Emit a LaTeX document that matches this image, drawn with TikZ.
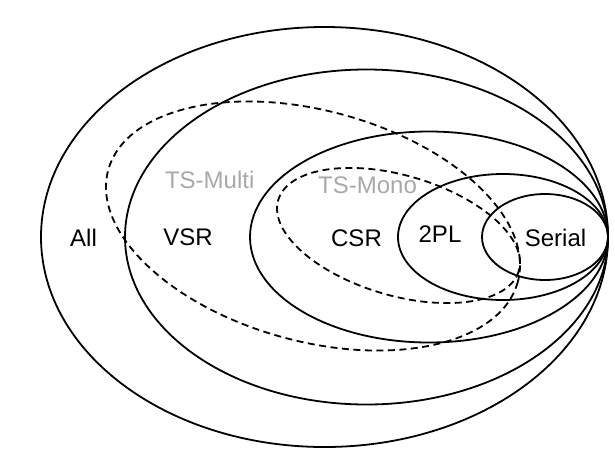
\documentclass[tikz,border=0pt]{standalone}
\usepackage{fontspec}
\setmainfont{Liberation Sans}
\definecolor{tsgray}{RGB}{168,168,168}
\begin{document}
\begin{tikzpicture}[x=1pt,y=-1pt,
  setline/.style={line width=1.8pt},
  tsline/.style={line width=1.8pt,dash pattern=on 7pt off 4.5pt},
  setlabel/.style={font=\fontsize{24}{28}\selectfont,anchor=base,inner sep=0pt,text=black},
  tslabel/.style={setlabel,text=tsgray}]
\useasboundingbox (0,0) rectangle (615,453);
% nested sets, all tangent at the right
\draw[setline] (324.5,237) ellipse [x radius=283.5, y radius=210];
\draw[setline] (366.5,237) ellipse [x radius=241.5, y radius=167.5];
\draw[setline] (429,237) ellipse [x radius=179, y radius=105.5];
\draw[setline] (503,237) ellipse [x radius=105, y radius=63];
\draw[setline] (545,237) ellipse [x radius=63, y radius=43];
% dashed tilted sets
\draw[tsline, rotate around={-15.3:(313,226)}] (313,226) ellipse [x radius=212.3, y radius=115.3];
\draw[tsline, rotate around={-16.4:(398.5,235.5)}] (398.5,235.5) ellipse [x radius=125.4, y radius=60];
% labels
\node[setlabel] (all) at (83.5,246) {All};
\node[setlabel] (vsr) at (188,245.5) {VSR};
\node[setlabel] (csr) at (356.5,246) {CSR};
\node[setlabel] (tpl) at (440,242) {2PL};
\node[setlabel] (serial) at (555.5,246) {Serial};
\node[tslabel] (tsmulti) at (209.7,188.3) {TS-Multi};
\node[tslabel] (tsmono) at (367.5,193.3) {TS-Mono};
\end{tikzpicture}
\end{document}
